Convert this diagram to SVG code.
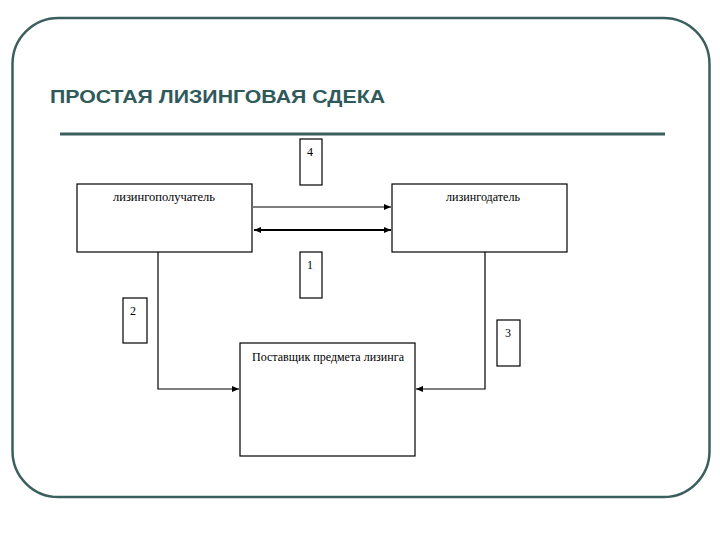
<svg xmlns="http://www.w3.org/2000/svg" width="720" height="540" viewBox="0 0 720 540">
<style>
.box{fill:#fff;stroke:#000;stroke-width:1.2}
.lbl{font-family:"Liberation Serif",serif;font-size:11.5px;fill:#000}
.num{font-family:"Liberation Serif",serif;font-size:12px;fill:#000}
.con{fill:none;stroke:#000;stroke-width:1.2}
.thick{fill:none;stroke:#000;stroke-width:2.2}
</style>
<defs>
<marker id="ah" markerWidth="8" markerHeight="8" refX="7" refY="4" orient="auto-start-reverse" markerUnits="userSpaceOnUse">
<path d="M0,1 L7,4 L0,7 Z" fill="#000"/>
</marker>
</defs>
<rect width="720" height="540" fill="#fff"/>
<rect id="frame" x="12.5" y="18" width="697" height="479" rx="46" ry="46" fill="none" stroke="#3b5f5d" stroke-width="2.5"/>
<text id="title" x="50" y="103" font-family="Liberation Sans,Arial,sans-serif" font-weight="bold" font-size="18" fill="#2f5a59" textLength="335" lengthAdjust="spacingAndGlyphs">ПРОСТАЯ ЛИЗИНГОВАЯ СДЕКА</text>
<line x1="60" y1="134" x2="665" y2="134" stroke="#3b5f5d" stroke-width="3"/>
<g id="connectors">
<line class="con" x1="253" y1="207" x2="391" y2="207" marker-end="url(#ah)"/>
<line class="thick" x1="254" y1="230" x2="391" y2="230" marker-start="url(#ah)" marker-end="url(#ah)"/>
<polyline class="con" points="158,252 158,389 239,389" marker-end="url(#ah)"/>
<polyline class="con" points="485,252 485,389 416,389" marker-end="url(#ah)"/>
</g>
<g id="n4"><rect class="box" x="300" y="139" width="22" height="46"/><text class="num" x="307" y="156">4</text></g>
<g id="lessee"><rect class="box" x="77" y="184" width="175" height="68"/><text class="lbl" x="164" y="201" text-anchor="middle" textLength="102" lengthAdjust="spacingAndGlyphs">лизингополучатель</text></g>
<g id="lessor"><rect class="box" x="392" y="184" width="175" height="68"/><text class="lbl" x="483" y="201" text-anchor="middle" textLength="74" lengthAdjust="spacingAndGlyphs">лизингодатель</text></g>
<g id="n1"><rect class="box" x="300" y="252" width="22" height="46"/><text class="num" x="307" y="269">1</text></g>
<g id="n2"><rect class="box" x="123" y="298" width="24" height="45"/><text class="num" x="130" y="315">2</text></g>
<g id="n3"><rect class="box" x="497" y="320" width="23" height="46"/><text class="num" x="505" y="337">3</text></g>
<g id="supplier"><rect class="box" x="240" y="343" width="175" height="113"/><text class="lbl" x="252" y="361" textLength="152" lengthAdjust="spacingAndGlyphs">Поставщик предмета лизинга</text></g>
</svg>
